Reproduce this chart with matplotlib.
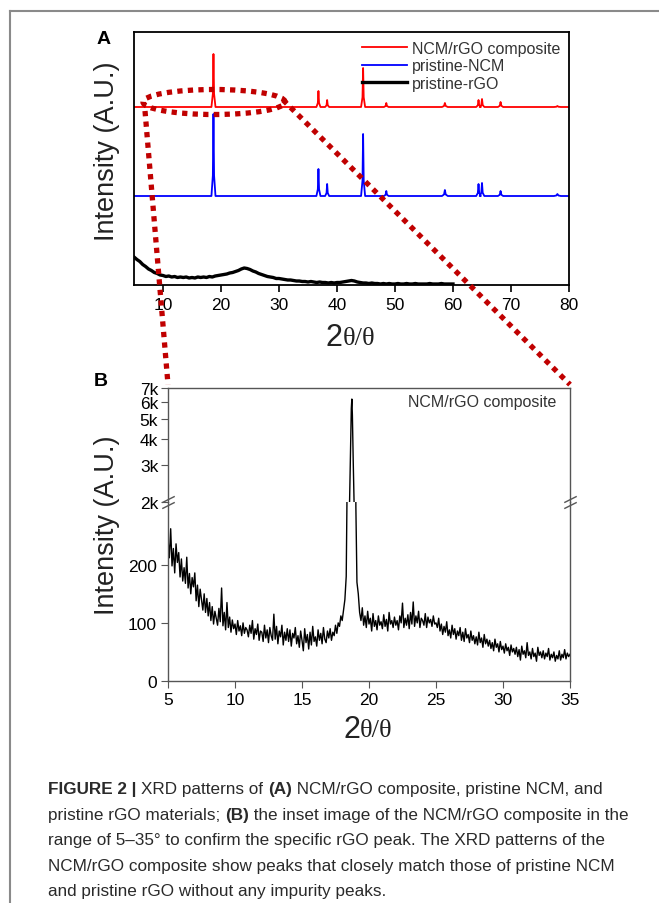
import numpy as np
import matplotlib

matplotlib.use("Agg")
import matplotlib.pyplot as plt
from matplotlib.patches import Ellipse, ConnectionPatch
from matplotlib.lines import Line2D
from matplotlib.transforms import ScaledTranslation

plt.rcParams["font.family"] = ["Liberation Sans", "DejaVu Sans"]

# ---- panel A: stacked XRD patterns (arbitrary units, offset) ----
RED_BASE = 178
BLUE_BASE = 89
peak_pos = [18.7, 36.8, 38.3, 44.5, 48.5, 58.6, 64.4, 65.0, 68.2, 78.0]
peak_width = [0.35, 0.35, 0.35, 0.35, 0.4, 0.5, 0.4, 0.4, 0.45, 0.6]
red_heights = [53, 16, 7, 39, 4, 4, 7, 8, 5, 1]
blue_heights = [82, 27, 12, 62, 5, 6, 12, 13, 5, 2]

rgo_x = np.arange(5.0, 60.01, 0.5)
rgo_y = [28, 25.5, 23.5, 20.5, 18.5, 16, 14.5, 12.5, 11.5, 10,
         9.5, 8.5, 9, 8, 8.5, 7.5, 8, 7.5, 8, 7,
         7.5, 7, 8, 7.5, 8, 7.5, 8.5, 8, 9, 9.5,
         10, 10.5, 11, 12, 12.5, 13.5, 14.5, 16, 17, 16.5,
         15.5, 14, 13, 11.5, 10.5, 9.5, 8.5, 8, 7.5, 6.5,
         6.5, 6, 5.5, 5, 5, 4.5, 4, 4, 3.5, 3.5,
         3, 3.5, 3, 2.5, 3, 2.5, 2.5, 2, 2.5, 2,
         2.5, 2.5, 3, 3.5, 4, 4.5, 4, 3, 2.5, 2,
         2, 1.5, 2, 1.5, 1.5, 1, 1.5, 1, 1.5, 1,
         1, 1.5, 1, 1, 1.5, 1, 1, 1.5, 1, 1,
         1, 1, 1.5, 1, 1, 1, 1.5, 1, 1, 1,
         1]

# ---- panel B: NCM/rGO composite, 5-35 deg ----
bg_left = [245, 212, 262, 198, 228, 186, 236, 204, 221, 179,
           210, 172, 195, 168, 213, 160, 185, 150, 178, 162,
           186, 138, 165, 128, 158, 140, 122, 150, 118, 142,
           112, 135, 104, 128, 98, 120, 108, 96, 125, 102,
           160, 95, 118, 88, 135, 92, 110, 84, 105, 90,
           98, 80, 104, 86, 95, 78, 100, 82, 92, 88,
           76, 96, 82, 104, 72, 90, 80, 98, 70, 86,
           84, 68, 96, 74, 88, 66, 92, 78, 70, 115,
           72, 94, 64, 86, 76, 96, 62, 84, 70, 90,
           68, 88, 60, 82, 74, 92, 64, 78, 58, 86,
           70, 52, 90, 66, 80, 55, 84, 62, 94, 68,
           76, 60, 88, 70, 82, 64, 92, 72, 66, 86,
           74, 90, 70, 84, 78, 96, 82, 100, 94, 112,
           104, 122, 140]
peak_x_b = [18.3, 18.36, 18.45, 18.55, 18.62, 18.68, 18.72, 18.76, 18.82, 18.9, 18.96, 19.02, 19.1]
peak_y_b = [180, 320, 1200, 2000, 3500, 5600, 6200, 5200, 3200, 1800, 700, 300, 170]
bg_right = [150, 118, 104, 126, 96, 112, 92, 120,
            98, 108, 86, 116, 94, 104, 88, 112, 96, 102,
            90, 114, 94, 106, 86, 118, 98, 104, 92, 110,
            96, 104, 88, 112, 100, 134, 92, 108, 96, 114,
            90, 118, 98, 136, 94, 112, 100, 120, 92, 108,
            104, 96, 116, 92, 110, 100, 106, 94, 112, 98,
            100, 92, 108, 86, 98, 80, 94, 84, 102, 78,
            88, 74, 96, 80, 90, 72, 86, 78, 92, 70,
            84, 68, 90, 74, 80, 66, 86, 70, 78, 64,
            76, 62, 84, 66, 74, 58, 80, 64, 72, 60,
            70, 56, 66, 52, 72, 58, 64, 50, 68, 54,
            60, 48, 64, 52, 58, 44, 62, 50, 56, 46,
            58, 42, 54, 36, 60, 46, 52, 40, 66, 44,
            50, 38, 56, 42, 48, 34, 58, 44, 50, 40,
            52, 38, 48, 42, 56, 36, 46, 40, 50, 34,
            44, 38, 52, 36, 46, 40, 54, 38, 48, 42,
            46]

upper_ticks = [2000, 3000, 4000, 5000, 6000, 7000]
upper_labels = ["2k", "3k", "4k", "5k", "6k", "7k"]

W, H = 659, 904


def pattern(base, heights):
    # flat baseline with narrow peaks
    xs, ys = [5.0], [base]
    for p, w, h in zip(peak_pos, peak_width, heights):
        xs += [p - w, p - w * 0.3, p, p + w * 0.3, p + w]
        ys += [base, base + h * 0.25, base + h, base + h * 0.25, base]
    xs.append(80.0)
    ys.append(base)
    return xs, ys


def fig_rect(l, t, r, b):
    return [l / W, 1 - b / H, (r - l) / W, (b - t) / H]


fig = plt.figure(figsize=(W / 100, H / 100), dpi=100)

# outer frame (top and left only)
fig.add_artist(Line2D([10 / W, 1], [1 - 12 / H, 1 - 12 / H], color="#8a8a8a", lw=1.5))
fig.add_artist(Line2D([10 / W, 10 / W], [0, 1 - 12 / H], color="#8a8a8a", lw=1.5))

# ---------------- panel A ----------------
axA = fig.add_axes(fig_rect(134, 33, 569, 286))
rx, ry = pattern(RED_BASE, red_heights)
bx, by = pattern(BLUE_BASE, blue_heights)
axA.plot(rx, ry, color="#ff0000", lw=1.3, label="NCM/rGO composite")
axA.plot(bx, by, color="#0000ff", lw=1.3, label="pristine-NCM")
axA.plot(rgo_x, rgo_y, color="black", lw=2.4, label="pristine-rGO")
axA.set_xlim(5, 80)
axA.set_ylim(0, 253)
axA.set_xticks(range(10, 81, 10))
axA.set_yticks([])
axA.tick_params(axis="x", direction="out", length=5, width=1.2, labelsize=12.5, pad=4)
for s in axA.spines.values():
    s.set_linewidth(1.3)
leg = axA.legend(loc="upper right", frameon=False, fontsize=11.5, handlelength=2.8,
                 handletextpad=0.3, labelspacing=0.15, borderaxespad=0.15)
for t in leg.get_texts():
    t.set_color("#333333")
fig.text(107 / W, 1 - 151 / H, "Intensity (A.U.)", rotation=90, ha="center", va="center",
         fontsize=19.5, color="#222222")
fig.text(104 / W, 1 - 40 / H, "A", ha="center", va="center", fontsize=14, fontweight="bold")

# ---------------- panel B ----------------
axL = fig.add_axes(fig_rect(168, 503, 570, 682))
axU = fig.add_axes(fig_rect(168, 389, 570, 503))
xb = np.concatenate([np.linspace(5.0, 18.2, len(bg_left)), peak_x_b,
                     np.linspace(19.2, 35.0, len(bg_right))])
yb = np.concatenate([bg_left, peak_y_b, bg_right])
for ax in (axL, axU):
    ax.plot(xb, yb, color="black", lw=1.0)
    ax.set_xlim(5, 35)
    for s in ax.spines.values():
        s.set_color("#555555")
        s.set_linewidth(1.0)
    ax.tick_params(direction="out", length=5, color="#555555", labelsize=12.5, pad=3)

axL.set_ylim(0, 308)
axL.set_yticks([0, 100, 200])
axL.set_xticks(range(5, 36, 5))
axL.spines["top"].set_visible(False)

axU.set_yscale("log")
axU.set_ylim(2000, 7000)
axU.set_yticks(upper_ticks)
axU.set_yticklabels(upper_labels)
axU.yaxis.set_minor_locator(matplotlib.ticker.NullLocator())
axU.set_xticks([])
axU.spines["bottom"].set_visible(False)
axU.tick_params(axis="y", pad=2)
axU.text(0.965, 0.88, "NCM/rGO composite", transform=axU.transAxes, ha="right", va="center",
         fontsize=11.5, color="#333333")

# axis break marks
mk = dict(marker=[(-1, -0.5), (1, 0.5)], markersize=9, linestyle="none", color="#555555",
          mec="#555555", mew=1.0, clip_on=False)
for dy in (2.5, -2.5):
    off = ScaledTranslation(0, dy / 72, fig.dpi_scale_trans)
    axU.plot([0, 1], [0, 0], transform=axU.transAxes + off, **mk)

fig.text(107 / W, 1 - 525 / H, "Intensity (A.U.)", rotation=90, ha="center", va="center",
         fontsize=19.5, color="#222222")
fig.text(101 / W, 1 - 381 / H, "B", ha="center", va="center", fontsize=14, fontweight="bold")

# x labels "2θ/θ"
for ax, ypix in ((axA, 338), (axL, 730)):
    cx = (ax.get_position().x0 + ax.get_position().x1) / 2
    fig.text(cx - 9 / W, 1 - ypix / H, "2", ha="right", va="center", fontsize=22, color="#222222")
    fig.text(cx - 9 / W, 1 - (ypix + 1) / H, "θ/θ", ha="left", va="center", fontsize=19,
             family="Liberation Serif", color="#222222")

# dotted zoom call-out
RED = "#c00000"
dot = dict(color=RED, lw=3.8, linestyle=(0, (1.0, 1.0)), capstyle="butt")
axA.add_patch(Ellipse((18.8, 183), 24.5, 25, fill=False, clip_on=False, zorder=10, **dot))
for xyA, xyB in (((6.9, 174), (0, 1.03)), ((30.7, 185), (1, 1.03))):
    cp = ConnectionPatch(xyA=xyA, coordsA=axA.transData, xyB=xyB, coordsB=axU.transAxes,
                         zorder=10, **dot)
    fig.add_artist(cp)

# ---------------- caption ----------------
caption = [
    [("FIGURE 2 | ", "bold"), ("XRD patterns of ", "normal"), ("(A)", "bold"),
     (" NCM/rGO composite, pristine NCM, and", "normal")],
    [("pristine rGO materials; ", "normal"), ("(B)", "bold"),
     (" the inset image of the NCM/rGO composite in the", "normal")],
    [("range of 5–35° to confirm the specific rGO peak. The XRD patterns of the", "normal")],
    [("NCM/rGO composite show peaks that closely match those of pristine NCM", "normal")],
    [("and pristine rGO without any impurity peaks.", "normal")],
]
cap_y = [790, 816, 841, 867, 892]
renderer = fig.canvas.get_renderer()
for runs, ypix in zip(caption, cap_y):
    xpix = 48
    for txt, wt in runs:
        t = fig.text(xpix / W, 1 - ypix / H, txt, ha="left", va="center", fontsize=12.3,
                     fontweight=wt, color="#2a2a2a")
        xpix += t.get_window_extent(renderer).width

fig.savefig("out.png", dpi=100)
